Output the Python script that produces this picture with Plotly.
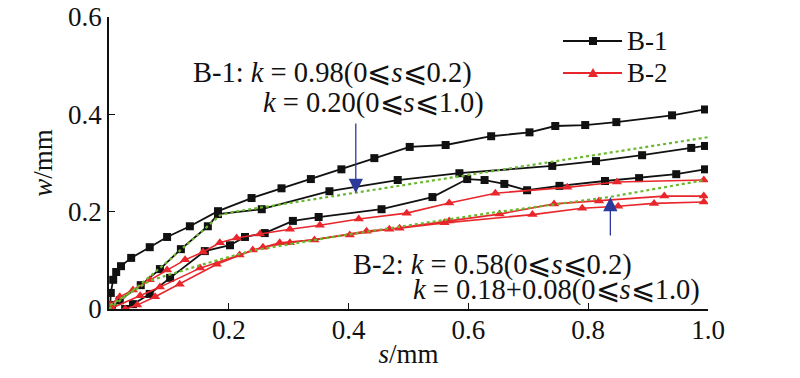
import plotly.graph_objects as go

# ---------------- data ----------------
b1_a_s = [0.002, 0.003, 0.007, 0.012, 0.020, 0.037, 0.068, 0.097, 0.135, 0.182, 0.238, 0.288, 0.337,
          0.388, 0.443, 0.502, 0.562, 0.638, 0.702, 0.745, 0.795, 0.847, 0.940, 0.995]
b1_a_w = [0.008, 0.033, 0.060, 0.076, 0.088, 0.105, 0.127, 0.148, 0.170, 0.201, 0.228, 0.248, 0.267,
          0.287, 0.310, 0.333, 0.337, 0.355, 0.363, 0.376, 0.378, 0.384, 0.398, 0.410]

b1_b_s = [0.005, 0.018, 0.053, 0.085, 0.120, 0.165, 0.182, 0.255, 0.368, 0.482, 0.585, 0.740,
          0.813, 0.890, 0.972, 0.995]
b1_b_w = [0.002, 0.018, 0.049, 0.082, 0.123, 0.170, 0.195, 0.205, 0.242, 0.265, 0.279, 0.294,
          0.304, 0.316, 0.331, 0.335]

b1_c_s = [0.027, 0.040, 0.068, 0.102, 0.160, 0.202, 0.227, 0.260, 0.307, 0.350, 0.455, 0.540,
          0.598, 0.627, 0.660, 0.698, 0.752, 0.828, 0.885, 0.947, 0.995]
b1_c_w = [0.000, 0.010, 0.031, 0.064, 0.119, 0.131, 0.148, 0.156, 0.181, 0.189, 0.205, 0.230,
          0.267, 0.265, 0.257, 0.244, 0.253, 0.263, 0.269, 0.277, 0.287]

b2_a_s = [0.002, 0.018, 0.040, 0.068, 0.097, 0.127, 0.157, 0.185, 0.213, 0.252, 0.302, 0.352,
          0.417, 0.497, 0.568, 0.645, 0.765, 0.848, 0.993]
b2_a_w = [0.008, 0.025, 0.039, 0.060, 0.080, 0.101, 0.117, 0.136, 0.146, 0.154, 0.164, 0.172,
          0.185, 0.197, 0.218, 0.238, 0.250, 0.261, 0.265]

b2_b_s = [0.005, 0.052, 0.085, 0.152, 0.218, 0.257, 0.302, 0.402, 0.468, 0.568, 0.652, 0.743,
          0.818, 0.927, 0.993]
b2_b_w = [0.002, 0.027, 0.045, 0.084, 0.111, 0.127, 0.136, 0.152, 0.164, 0.181, 0.195, 0.216,
          0.222, 0.232, 0.232]

b2_c_s = [0.027, 0.047, 0.077, 0.118, 0.180, 0.240, 0.285, 0.343, 0.430, 0.485, 0.560, 0.707,
          0.790, 0.850, 0.910, 0.993]
b2_c_w = [0.000, 0.008, 0.025, 0.051, 0.092, 0.121, 0.136, 0.142, 0.160, 0.166, 0.177, 0.194,
          0.207, 0.211, 0.217, 0.220]

fit1_s = [0.0, 0.05, 0.10, 0.15, 0.185, 0.21, 0.40, 0.60, 0.80, 1.0]
fit1_w = [0.0, 0.048, 0.100, 0.155, 0.192, 0.200, 0.237, 0.276, 0.315, 0.353]

fit2_s = [0.002, 0.068, 0.152, 0.235, 0.373, 0.635, 0.835, 0.995]
fit2_w = [0.008, 0.058, 0.090, 0.119, 0.148, 0.197, 0.230, 0.265]

x_ticks = [0.2, 0.4, 0.6, 0.8, 1.0]
x_tick_text = ["0.2", "0.4", "0.6", "0.8", "1.0"]
y_ticks = [0, 0.2, 0.4, 0.6]
y_tick_text = ["0", "0.2", "0.4", "0.6"]

legend_names = ["B-1", "B-2"]

# ---------------- figure ----------------
# The page body margin is removed (post_script), so the figure fills the window.
W, H = 800, 378
ML, MR, MT, MB = 109, 92, 17, 69
PW, PH = W - ML - MR, H - MT - MB

def px(xp):   # screen pixel x -> paper x
    return (xp - ML) / PW

def py(yp):   # screen pixel y -> paper y
    return (H - MB - yp) / PH

FONT = "Liberation Serif, Times New Roman, serif"
BLACK = "#111111"
RED = "#e8262b"
GREEN = "#6ab82e"
BLUE = "#2b3a9a"

fig = go.Figure()

for xs, ys in [(b1_a_s, b1_a_w), (b1_b_s, b1_b_w), (b1_c_s, b1_c_w)]:
    fig.add_trace(go.Scatter(x=xs, y=ys, mode="lines+markers", name=legend_names[0],
                             showlegend=False,
                             line=dict(color=BLACK, width=1.8),
                             marker=dict(symbol="square", size=8, color=BLACK)))

for xs, ys in [(b2_a_s, b2_a_w), (b2_b_s, b2_b_w), (b2_c_s, b2_c_w)]:
    fig.add_trace(go.Scatter(x=xs, y=ys, mode="lines+markers", name=legend_names[1],
                             showlegend=False,
                             line=dict(color=RED, width=1.6),
                             marker=dict(symbol="triangle-up", size=9, color=RED)))

for xs, ys in [(fit1_s, fit1_w), (fit2_s, fit2_w)]:
    fig.add_trace(go.Scatter(x=xs, y=ys, mode="lines", showlegend=False,
                             line=dict(color=GREEN, width=2.2, dash="dot"),
                             hoverinfo="skip"))

axis_common = dict(showline=True, linecolor=BLACK, linewidth=1.5, ticks="inside",
                   ticklen=6, tickwidth=1.2, tickcolor=BLACK, showgrid=False,
                   zeroline=False, mirror=False, automargin=False,
                   ticklabeloverflow="allow",
                   tickfont=dict(family=FONT, size=27, color=BLACK))

fig.update_xaxes(range=[0, 1.0], tickvals=x_ticks, ticktext=x_tick_text,
                 ticklabelstandoff=-4,
                 title=dict(text="<i>s</i>/mm", font=dict(family=FONT, size=27, color=BLACK),
                            standoff=0),
                 **axis_common)
fig.update_yaxes(range=[0, 0.6], tickvals=y_ticks, ticktext=y_tick_text,
                 ticklabelstandoff=0,
                 title=dict(text="<i>w</i>/mm", font=dict(family=FONT, size=27, color=BLACK),
                            standoff=8),
                 **axis_common)

ann_font = dict(family=FONT, size=28.5, color=BLACK)
leg_font = dict(family=FONT, size=27, color=BLACK)
annotations = [
    dict(x=px(192), y=py(73), xref="paper", yref="paper", xanchor="left", yanchor="middle",
         text="B-1: <i>k</i> = 0.98(0⩽<i>s</i>⩽0.2)", showarrow=False, font=ann_font,
         borderpad=0),
    dict(x=px(262), y=py(103), xref="paper", yref="paper", xanchor="left", yanchor="middle",
         text="<i>k</i> = 0.20(0⩽<i>s</i>⩽1.0)", showarrow=False, font=ann_font, borderpad=0),
    dict(x=px(352), y=py(265), xref="paper", yref="paper", xanchor="left", yanchor="middle",
         text="B-2: <i>k</i> = 0.58(0⩽<i>s</i>⩽0.2)", showarrow=False, font=ann_font,
         borderpad=0),
    dict(x=px(412), y=py(290), xref="paper", yref="paper", xanchor="left", yanchor="middle",
         text="<i>k</i> = 0.18+0.08(0⩽<i>s</i>⩽1.0)", showarrow=False, font=ann_font,
         borderpad=0),
    dict(x=0.412, y=0.238, ax=0.412, ay=0.384, xref="x", yref="y", axref="x", ayref="y",
         text="", showarrow=True, arrowhead=2, arrowsize=2.2, arrowwidth=1.3,
         arrowcolor=BLUE),
    dict(x=0.837, y=0.230, ax=0.837, ay=0.148, xref="x", yref="y", axref="x", ayref="y",
         text="", showarrow=True, arrowhead=2, arrowsize=2.2, arrowwidth=1.3,
         arrowcolor=BLUE),
]

# manual legend (line sample with a marker in the middle, then the name)
shapes = []
leg_rows = [(41, BLACK, "square"), (73, RED, "triangle")]
for (yrow, col, sym), name in zip(leg_rows, legend_names):
    shapes.append(dict(type="line", xref="paper", yref="paper",
                       x0=px(563), x1=px(622), y0=py(yrow), y1=py(yrow),
                       line=dict(color=col, width=1.8)))
    cx = 593
    if sym == "square":
        shapes.append(dict(type="rect", xref="paper", yref="paper",
                           x0=px(cx - 4), x1=px(cx + 4), y0=py(yrow + 4), y1=py(yrow - 4),
                           fillcolor=col, line=dict(width=0)))
    else:
        path = (f"M {px(cx - 5)} {py(yrow + 4)} L {px(cx + 5)} {py(yrow + 4)} "
                f"L {px(cx)} {py(yrow - 5)} Z")
        shapes.append(dict(type="path", xref="paper", yref="paper", path=path,
                           fillcolor=col, line=dict(width=0)))
    annotations.append(dict(x=px(626), y=py(yrow), xref="paper", yref="paper",
                            xanchor="left", yanchor="middle", text=name, showarrow=False,
                            font=leg_font, borderpad=0))

fig.update_layout(
    width=W, height=H,
    margin=dict(l=ML, r=MR, t=MT, b=MB),
    paper_bgcolor="white", plot_bgcolor="white",
    font=dict(family=FONT, size=27, color=BLACK),
    showlegend=False,
    annotations=annotations,
    shapes=shapes,
)

fig.write_html("out.html",
               config={"displayModeBar": False},
               post_script="document.body.style.margin='0px';"
                           "document.body.style.overflow='hidden';")
